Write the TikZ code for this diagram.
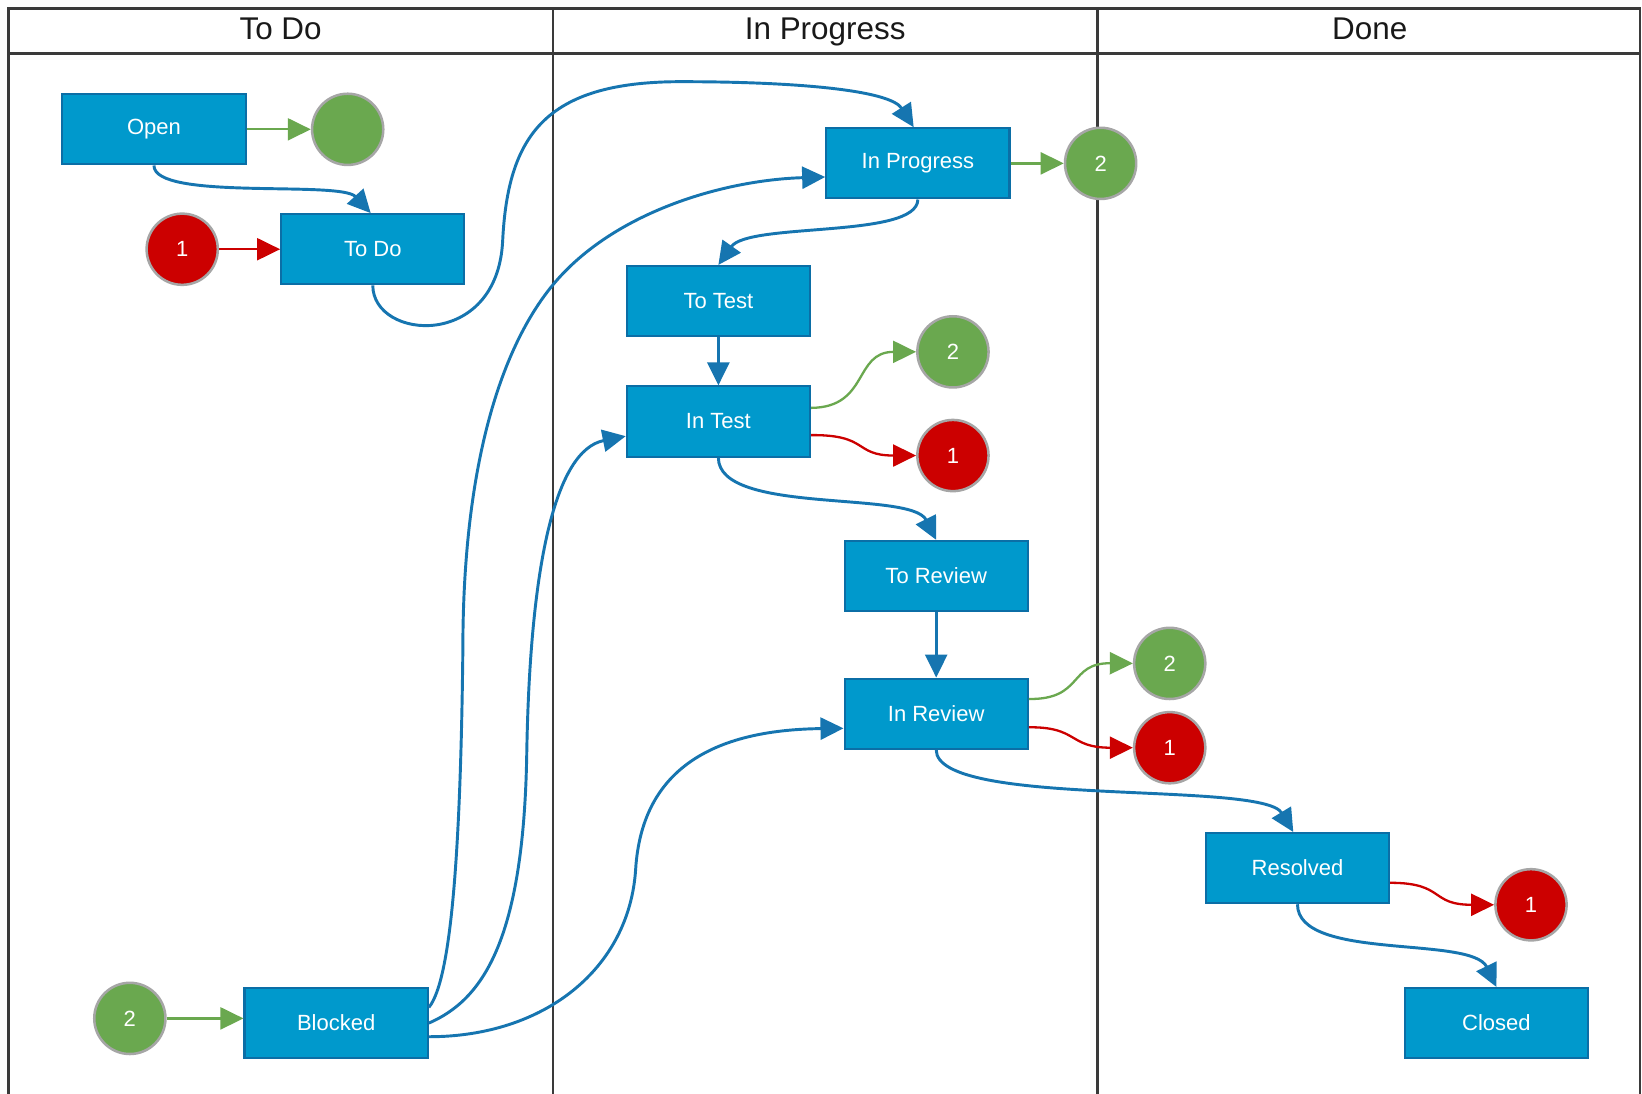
\documentclass[tikz,border=0pt]{standalone}
\usepackage{fontspec}
\setmainfont{Liberation Sans}
\usetikzlibrary{arrows.meta}
\definecolor{boxfill}{HTML}{0099CC}
\definecolor{boxedge}{HTML}{0B6EA6}
\definecolor{flowblue}{HTML}{1675B0}
\definecolor{okgreen}{HTML}{6AA84F}
\definecolor{errred}{HTML}{CC0000}
\definecolor{ringgray}{HTML}{A6A6A6}
\definecolor{laneline}{HTML}{3A3A3A}
\begin{document}
\begin{tikzpicture}[x=0.5pt,y=-0.5pt]
            \tikzset{
                state/.style={rectangle,draw=boxedge,fill=boxfill,line width=1pt,minimum width=87.5pt,minimum height=33.5pt,inner sep=0pt,text=white,font=\fontsize{10.5}{12}\selectfont},
                okdot/.style={circle,draw=ringgray,fill=okgreen,line width=1.2pt,minimum size=34pt,inner sep=0pt,text=white,font=\fontsize{10.5}{12}\selectfont},
                errdot/.style={okdot,fill=errred},
                flow/.style={draw=flowblue,line width=1.4pt,-{Triangle[length=11pt,width=10.5pt]}},
                okflow/.style={flow,draw=okgreen,line width=1.1pt},
                errflow/.style={flow,draw=errred,line width=1.1pt},
                lanehead/.style={anchor=base,font=\fontsize{15}{18}\selectfont,text=black!90},
                lane/.style={draw=laneline,line width=1.25pt},}
            \path[use as bounding box,fill=white] (0,0) rectangle (1568,1044);
            % swimlanes
            \draw[lane] (8,1050) -- (8,8) -- (1566,8) -- (1566,1050);
            \draw[lane] (8,51) -- (1566,51);
            \foreach \x in {528,1048} \draw[lane] (\x,8) -- (\x,1050);
            \node[lanehead] (hdtodo) at (268,38) {To Do};
            \node[lanehead] (hdprog) at (788,38) {In Progress};
            \node[lanehead] (hddone) at (1308,38) {Done};
            % states
            \node[state] (open) at (147,123.5) {Open};
            \node[okdot] (openok) at (332,123.5) {};
            \node[state] (todo) at (356,238) {To Do};
            \node[errdot] (todoerr) at (174,238) {1};
            \node[state] (inprog) at (876.5,156) {In Progress};
            \node[okdot] (inprogok) at (1051,156) {2};
            \node[state] (totest) at (686,287.5) {To Test};
            \node[state] (intest) at (686,402.5) {In Test};
            \node[okdot] (intestok) at (910,336) {2};
            \node[errdot] (intesterr) at (910,435) {1};
            \node[state] (toreview) at (894,550) {To Review};
            \node[state] (inreview) at (894,681.5) {In Review};
            \node[okdot] (inreviewok) at (1117,633.5) {2};
            \node[errdot] (inreviewerr) at (1117,714) {1};
            \node[state] (resolved) at (1239,829) {Resolved};
            \node[errdot] (resolvederr) at (1462,864) {1};
            \node[state] (closed) at (1429,977) {Closed};
            \node[state] (blocked) at (321,977) {Blocked};
            \node[okdot] (blockedok) at (124,972.5) {2};
            % straight links
            \draw[okflow] (open) -- (openok);
            \draw[errflow] (todoerr) -- (todo);
            \draw[okflow] (inprog) -- (inprogok);
            \draw[flow] (totest) -- (intest);
            \draw[flow] (toreview) -- (inreview);
            \draw[okflow] (blockedok) -- (blockedok -| blocked.west);
            % curved links
            \draw[flow] (open.south) .. controls (147,192) and (325,172) .. ([xshift=-1pt]todo.north);
            \draw[flow] (todo.south) .. controls (356,325) and (475,335) .. (480,230) .. controls (485,130) and (520,78) .. (650,78) .. controls (760,78) and (850,86) .. ([xshift=-2pt]inprog.north);
            \draw[flow] ([yshift=7.5pt]blocked.east) .. controls (432,935) and (440,800) .. (442,620) .. controls (442,440) and (480,330) .. (528,272) .. controls (585,203) and (690,172) .. ([yshift=-6.5pt]inprog.west);
            \draw[flow] (blocked.east) .. controls (460,955) and (500,900) .. (503,720) .. controls (506,540) and (530,430) .. ([yshift=-7pt]intest.west);
            \draw[flow] ([yshift=-6.5pt]blocked.east) .. controls (520,990) and (601,925) .. (607,830) .. controls (613,735) and (680,697) .. ([yshift=-7pt]inreview.west);
            \draw[flow] (inprog.south) .. controls (876,228) and (715,212) .. (totest.north);
            \draw[okflow] ([yshift=6.5pt]intest.east) .. controls (830,389) and (815,336) .. (intestok.west);
            \draw[errflow] ([yshift=-6.5pt]intest.east) .. controls (830,415) and (815,435) .. (intesterr.west);
            \draw[flow] (intest.south) .. controls (686,492) and (870,468) .. (toreview.north);
            \draw[okflow] ([yshift=7pt]inreview.east) .. controls (1035,668) and (1020,633) .. (inreviewok.west);
            \draw[errflow] ([yshift=-6.5pt]inreview.east) .. controls (1030,694) and (1020,714) .. (inreviewerr.west);
            \draw[flow] (inreview.south) .. controls (894,772) and (1205,745) .. ([xshift=-2pt]resolved.north);
            \draw[errflow] ([yshift=-7pt]resolved.east) .. controls (1380,843) and (1365,864) .. (resolvederr.west);
            \draw[flow] (resolved.south) .. controls (1239,918) and (1405,893) .. (closed.north);
        \end{tikzpicture}
\end{document}
